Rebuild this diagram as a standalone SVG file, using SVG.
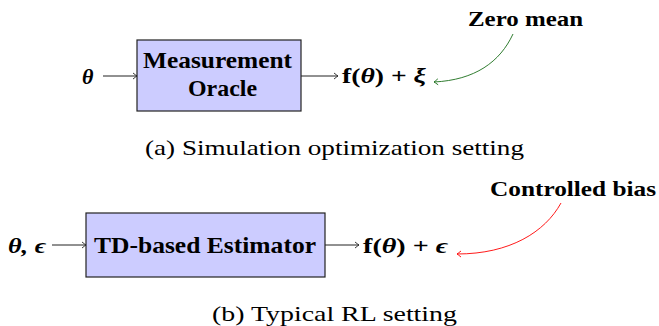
<svg xmlns="http://www.w3.org/2000/svg" width="659" height="326" viewBox="0 0 659 326">
<style>
text{font-family:"Liberation Serif","DejaVu Serif",serif;fill:#000}
.b{font-weight:bold}
.bi{font-weight:bold;font-style:italic}
.box{fill:#ccccff;stroke:#222;stroke-width:1.2}
.ln{fill:none;stroke:#222;stroke-width:1}
.cap{font-size:21px}
.m{font-size:22px}
</style>
<defs>
<marker id="ah" viewBox="-5 -4 6 8" markerWidth="6" markerHeight="8" refX="0" refY="0" orient="auto" markerUnits="userSpaceOnUse">
<path d="M-4,-3 Q-1,-0.6 0,0 Q-1,0.6 -4,3" fill="none" stroke="#222" stroke-width="0.9"/>
</marker>
<marker id="ahg" viewBox="-5 -4 6 8" markerWidth="6" markerHeight="8" refX="0" refY="0" orient="auto" markerUnits="userSpaceOnUse">
<path d="M-4,-3 Q-1,-0.6 0,0 Q-1,0.6 -4,3" fill="none" stroke="#1a6e1a" stroke-width="0.9"/>
</marker>
<marker id="ahr" viewBox="-5 -4 6 8" markerWidth="6" markerHeight="8" refX="0" refY="0" orient="auto" markerUnits="userSpaceOnUse">
<path d="M-4,-3 Q-1,-0.6 0,0 Q-1,0.6 -4,3" fill="none" stroke="#ff0000" stroke-width="0.9"/>
</marker>
</defs>

<g id="node-oracle">
<rect class="box" x="137" y="40" width="164" height="71"/>
<text class="b" x="217.5" y="68" font-size="23" text-anchor="middle" textLength="149" lengthAdjust="spacingAndGlyphs">Measurement</text>
<text class="b" x="222.5" y="96" font-size="23" text-anchor="middle" textLength="69" lengthAdjust="spacingAndGlyphs">Oracle</text>
</g>
<g id="node-estimator">
<rect class="box" x="86" y="213" width="239" height="64"/>
<text class="b" x="205" y="253" font-size="23" text-anchor="middle" textLength="222" lengthAdjust="spacingAndGlyphs">TD-based Estimator</text>
</g>
<g id="labels">
<text class="bi m" x="82" y="84">θ</text>
<text class="b m" x="342" y="83" textLength="84" lengthAdjust="spacingAndGlyphs">f(<tspan font-style="italic">θ</tspan>) + <tspan font-style="italic">ξ</tspan></text>
<text class="b" x="468" y="26" font-size="22" textLength="115" lengthAdjust="spacingAndGlyphs">Zero mean</text>
<text class="bi m" x="8" y="253" textLength="38" lengthAdjust="spacingAndGlyphs">θ, ϵ</text>
<text class="b m" x="363" y="253" textLength="85" lengthAdjust="spacingAndGlyphs">f(<tspan font-style="italic">θ</tspan>) + <tspan font-style="italic">ϵ</tspan></text>
<text class="b" x="490" y="196" font-size="22" textLength="166" lengthAdjust="spacingAndGlyphs">Controlled bias</text>
<text class="cap" x="145" y="155" textLength="379" lengthAdjust="spacingAndGlyphs">(a) Simulation optimization setting</text>
<text class="cap" x="212" y="321" textLength="245" lengthAdjust="spacingAndGlyphs">(b) Typical RL setting</text>
</g>
<g id="connectors">
<line class="ln" x1="103" y1="76" x2="137" y2="76" marker-end="url(#ah)"/>
<line class="ln" x1="301" y1="76" x2="338" y2="76" marker-end="url(#ah)"/>
<line class="ln" x1="52" y1="245" x2="86" y2="245" marker-end="url(#ah)"/>
<line class="ln" x1="325" y1="245" x2="359" y2="245" marker-end="url(#ah)"/>
<path d="M513,34 C500,62 475,80 434,82" fill="none" stroke="#1a6e1a" stroke-width="0.9" marker-end="url(#ahg)"/>
<path d="M561,203 C545,232 510,254 457,254" fill="none" stroke="#ff0000" stroke-width="0.9" marker-end="url(#ahr)"/>
</g>
</svg>
